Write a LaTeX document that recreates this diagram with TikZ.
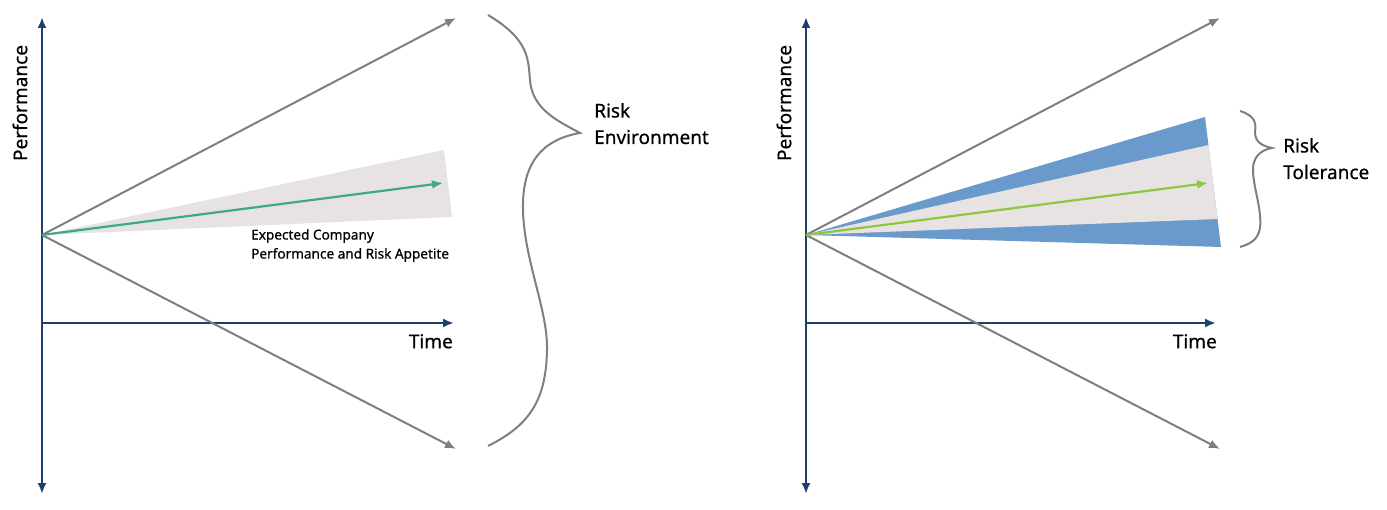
\documentclass[tikz,border=0pt]{standalone}
\usepackage{fontspec}
\setmainfont{Noto Sans}[FakeBold=0.6]
\usetikzlibrary{arrows.meta}
\definecolor{navy}{HTML}{1F3F6E}
\definecolor{ray}{HTML}{7F7F7F}
\definecolor{fan}{HTML}{E7E3E2}
\definecolor{teal}{HTML}{3CAA88}
\definecolor{lime}{HTML}{8DC63F}
\definecolor{bluefan}{HTML}{6A9ACB}
\tikzset{
  axis/.style={navy, line width=2.4pt, -{Latex[length=11pt,width=9pt]}},
  axis2/.style={navy, line width=2.4pt, {Latex[length=11pt,width=9pt]}-{Latex[length=11pt,width=9pt]}},
  rayline/.style={ray, line width=2pt, -{Latex[length=11pt,width=9pt]}},
  expline/.style={line width=2.2pt, -{Latex[length=11pt,width=9pt]}},
  brace/.style={ray, line width=2pt},
  lbl/.style={font=\fontsize{19}{26.5}\selectfont\bfseries, align=left, inner sep=0pt},
  small/.style={font=\fontsize{13.6}{19}\selectfont\bfseries, align=left, inner sep=0pt, anchor=north west},
}
\begin{document}
\begin{tikzpicture}[x=1pt,y=-1pt]
\useasboundingbox (0,0) rectangle (1387,510);
% ---------- left panel ----------
\coordinate (oL) at (42,235);
\coordinate (yLt) at (42,17);
\coordinate (yLb) at (42,494);
\coordinate (xL0) at (42,323);
\coordinate (xL1) at (454,323);
\coordinate (uL) at (456,18);
\coordinate (dL) at (456,449);
\coordinate (eL) at (443,183);
\fill[fan] (oL) -- (444,150) -- (452,217) -- cycle;
\draw[axis2] (yLb) -- (yLt);
\draw[axis] (xL0) -- (xL1);
\draw[rayline] (oL) -- (uL);
\draw[rayline] (oL) -- (dL);
\draw[expline, teal] (oL) -- (eL);
\node[lbl, rotate=90] (perfL) at (20,103) {Performance};
\node[lbl, anchor=north east] (timeL) at (453,334) {Time};
\node[small] (expL) at (251,229) {Expected Company\\Performance and Risk Appetite};
\coordinate (bLt) at (488,15);
\coordinate (bLm) at (580,133);
\coordinate (bLb) at (488,446);
\draw[brace] (bLt) .. controls (530,40) and (528,60) .. (530,80)
  .. controls (532,110) and (560,122) .. (bLm)
  .. controls (540,140) and (522,165) .. (523,210)
  .. controls (524,260) and (548,310) .. (547,350)
  .. controls (546,400) and (530,425) .. (bLb);
\node[lbl, anchor=base west] (riskE) at (594,144) {Risk\\Environment};
% ---------- right panel ----------
\coordinate (oR) at (806,235);
\coordinate (yRt) at (806,17);
\coordinate (yRb) at (806,494);
\coordinate (xR0) at (806,323);
\coordinate (xR1) at (1216,323);
\coordinate (uR) at (1220,18);
\coordinate (dR) at (1220,449);
\coordinate (eR) at (1208,183);
\fill[bluefan] (oR) -- (1205,117) -- (1221,247) -- cycle;
\fill[fan] (oR) -- (1208.6,145) -- (1217.6,219) -- cycle;
\draw[axis2] (yRb) -- (yRt);
\draw[axis] (xR0) -- (xR1);
\draw[rayline] (oR) -- (uR);
\draw[rayline] (oR) -- (dR);
\draw[expline, lime] (oR) -- (eR);
\node[lbl, rotate=90] (perfR) at (784,103) {Performance};
\node[lbl, anchor=north east] (timeR) at (1217,334) {Time};
\coordinate (bRt) at (1240,111);
\coordinate (bRm) at (1272,148);
\coordinate (bRb) at (1240,247);
\draw[brace] (bRt) .. controls (1256,116) and (1256,124) .. (1255,132)
  .. controls (1255,142) and (1262,146) .. (bRm)
  .. controls (1260,150) and (1252,158) .. (1253,172)
  .. controls (1254,190) and (1262,210) .. (1260,228)
  .. controls (1258,240) and (1250,244) .. (bRb);
\node[lbl, anchor=base west] (riskT) at (1283,179) {Risk\\Tolerance};
\end{tikzpicture}
\end{document}
